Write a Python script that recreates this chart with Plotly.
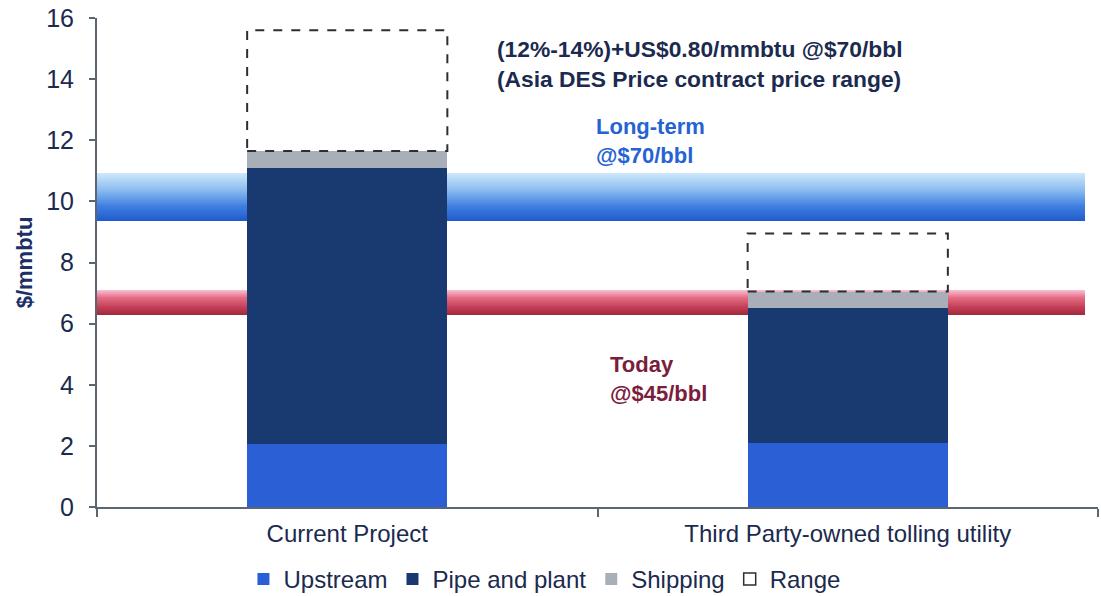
import plotly.graph_objects as go

# --- data ---------------------------------------------------------------
categories = ["Current Project", "Third Party-owned tolling utility"]
upstream = [2.05, 2.1]
pipe_and_plant = [9.05, 4.4]
shipping = [0.55, 0.55]
range_top = [15.6, 8.95]

long_term_band = (9.36, 10.93)   # $/mmbtu @ $70/bbl
today_band = (6.28, 7.10)        # $/mmbtu @ $45/bbl

y_ticks = [0, 2, 4, 6, 8, 10, 12, 14, 16]

# --- style --------------------------------------------------------------
FONT = "Liberation Sans, Arial, sans-serif"
NAVY_TEXT = "#1b2a4e"
C_UP = "#2a5fd6"
C_PIPE = "#183a70"
C_SHIP = "#a9afb9"
C_RANGE = "#2a2e36"
AXIS = "#5c6672"
BAR_W = 0.4

xpos = list(range(len(categories)))
fig = go.Figure()

fig.add_trace(go.Bar(name="Upstream", x=xpos, y=upstream, width=BAR_W,
                     marker=dict(color=C_UP, line=dict(width=0))))
fig.add_trace(go.Bar(name="Pipe and plant", x=xpos, y=pipe_and_plant, width=BAR_W,
                     marker=dict(color=C_PIPE, line=dict(width=0))))
fig.add_trace(go.Bar(name="Shipping", x=xpos, y=shipping, width=BAR_W,
                     marker=dict(color=C_SHIP, line=dict(width=0))))

# dashed range boxes sitting on top of the stacks
stack_top = [u + p + s for u, p, s in zip(upstream, pipe_and_plant, shipping)]
for i, (lo, hi) in enumerate(zip(stack_top, range_top)):
    x0, x1 = xpos[i] - BAR_W / 2, xpos[i] + BAR_W / 2
    fig.add_trace(go.Scatter(
        x=[x0, x1, x1, x0, x0], y=[lo, lo, hi, hi, lo],
        mode="lines", line=dict(color=C_RANGE, width=2, dash="dash"),
        showlegend=False, hoverinfo="skip"))

# legend entry for the range boxes
fig.add_trace(go.Scatter(
    name="Range", x=[None], y=[None], mode="markers",
    marker=dict(symbol="square-open", size=12, color=C_RANGE,
                line=dict(width=1.5, color=C_RANGE))))


def hex_to_rgb(h):
    h = h.lstrip("#")
    return tuple(int(h[k:k + 2], 16) for k in (0, 2, 4))


def gradient(stops, t):
    # stops: list of (position, hex) from top (0) to bottom (1)
    for (p0, c0), (p1, c1) in zip(stops[:-1], stops[1:]):
        if p0 <= t <= p1:
            f = (t - p0) / (p1 - p0) if p1 > p0 else 0
            a, b = hex_to_rgb(c0), hex_to_rgb(c1)
            return "rgb(%d,%d,%d)" % tuple(round(a[k] + (b[k] - a[k]) * f) for k in range(3))
    return stops[-1][1]


def add_band(lo, hi, stops, n=40):
    # each strip runs from its own top down to the band floor, so later
    # strips cover the lower part and no seams show between them
    step = (hi - lo) / n
    for k in range(n):
        top = hi - k * step
        fig.add_shape(type="rect", xref="paper", yref="y",
                      x0=0, x1=0.987, y0=lo, y1=top,
                      fillcolor=gradient(stops, (k + 0.5) / n),
                      line=dict(width=0), layer="below")


add_band(*long_term_band, [(0, "#cfe9fa"), (0.35, "#8cbdf0"), (0.7, "#3f7ee0"), (1, "#1f5bcd")])
add_band(*today_band, [(0, "#fbc0d4"), (0.3, "#e46e86"), (0.7, "#c23e55"), (1, "#9e2a3c")])

# --- annotations --------------------------------------------------------
fig.add_annotation(xref="paper", yref="y", x=0.398, y=14.5, xanchor="left", yanchor="middle",
                   align="left", showarrow=False,
                   text="<b>(12%-14%)+US$0.80/mmbtu @$70/bbl<br>(Asia DES Price contract price range)</b>",
                   font=dict(family=FONT, size=22.8, color=NAVY_TEXT))
fig.add_annotation(xref="paper", yref="y", x=0.497, y=11.96, xanchor="left", yanchor="middle",
                   align="left", showarrow=False,
                   text="<b>Long-term<br>@$70/bbl</b>",
                   font=dict(family=FONT, size=22, color="#2563d4"))
fig.add_annotation(xref="paper", yref="y", x=0.51, y=4.2, xanchor="left", yanchor="middle",
                   align="left", showarrow=False,
                   text="<b>Today<br>@$45/bbl</b>",
                   font=dict(family=FONT, size=22, color="#7b1d3c"))

# --- layout -------------------------------------------------------------
fig.update_layout(
    width=1101, height=596,
    margin=dict(l=97, r=3, t=18, b=89, autoexpand=False),
    barmode="stack",
    paper_bgcolor="white", plot_bgcolor="white",
    font=dict(family=FONT, size=23, color=NAVY_TEXT),
    showlegend=True,
    legend=dict(orientation="h", x=0.447, xanchor="center", y=-0.102, yanchor="top",
                font=dict(family=FONT, size=24, color=NAVY_TEXT),
                itemwidth=30, traceorder="normal", bgcolor="rgba(0,0,0,0)"),
    xaxis=dict(range=[-0.5, 1.5], tickvals=xpos, ticktext=categories,
               ticks="", showgrid=False, zeroline=False,
               showline=True, linecolor=AXIS, linewidth=2,
               tickfont=dict(family=FONT, size=24, color=NAVY_TEXT),
               ticklabelstandoff=4,
               minor=dict(tickvals=[-0.5, 0.5, 1.5], ticks="outside", ticklen=8,
                          tickcolor=AXIS, tickwidth=2)),
    yaxis=dict(range=[0, 16], tickvals=y_ticks, ticks="outside", ticklen=6,
               tickcolor=AXIS, tickwidth=2,
               showgrid=False, zeroline=False,
               showline=True, linecolor=AXIS, linewidth=2,
               tickfont=dict(family=FONT, size=25, color=NAVY_TEXT),
               ticklabelstandoff=10,
               title=dict(text="<b>$/mmbtu</b>", standoff=7,
                          font=dict(family=FONT, size=22, color="#1c2f66"))),
)

fig.write_html("out.html")
